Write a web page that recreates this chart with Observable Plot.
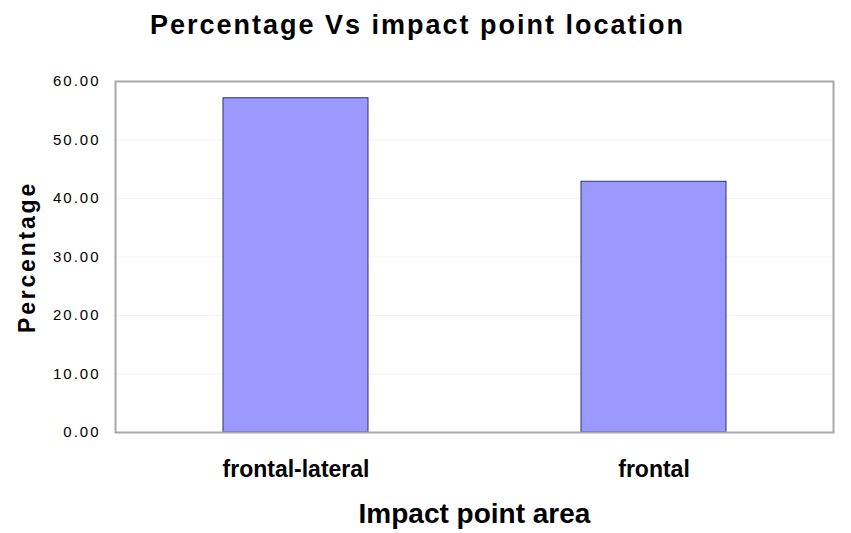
<!DOCTYPE html>
<html>
<head>
<meta charset="utf-8">
<script src="https://cdn.jsdelivr.net/npm/d3@7"></script>
<script src="https://cdn.jsdelivr.net/npm/@observablehq/plot@0.6"></script>
<style>
  html, body { margin: 0; padding: 0; background: #fff; }
  #title {
    width: 835px; height: 48px; padding-top: 12px;
    font-family: "Liberation Sans", Arial, sans-serif;
    font-weight: bold; font-size: 27px; line-height: 27px;
    letter-spacing: 2px; text-align: center; color: #000;
  }
  svg { font-family: "Liberation Sans", Arial, sans-serif; }
</style>
</head>
<body>
<div id="title">Percentage Vs impact point location</div>
<div id="chart"></div>
<script>
const categories = ["frontal-lateral", "frontal"];
const percentages = [57.14, 42.86];
const yTicks = [0, 10, 20, 30, 40, 50, 60];
const yLabel = "Percentage";
const xLabel = "Impact point area";

const data = categories.map((c, i) => ({category: c, value: percentages[i]}));

const chart = Plot.plot({
  width: 851,
  height: 473,
  marginTop: 21,
  marginBottom: 101,
  marginLeft: 115,
  marginRight: 18,
  style: {fontFamily: '"Liberation Sans", Arial, sans-serif', color: "#000", background: "#fff"},
  x: {domain: categories, paddingInner: 0.595, paddingOuter: 0.3, label: null},
  y: {domain: [0, 60], label: null},
  marks: [
    Plot.gridY(yTicks, {stroke: "#f3f3f3", strokeOpacity: 1}),
    Plot.barY(data, {x: "category", y: "value", fill: "#9999ff", stroke: "#333366", strokeWidth: 1}),
    Plot.frame({stroke: "#a8a8a8", strokeWidth: 2}),
    Plot.axisY(yTicks, {tickSize: 0, tickPadding: 15, tickFormat: d => d.toFixed(2), fontSize: 15, label: null}),
    Plot.axisX({tickSize: 0, tickPadding: 28, fontSize: 23, fontWeight: "bold", label: null}),
    Plot.text([yLabel], {frameAnchor: "left", dx: -88, rotate: -90, fontSize: 23, fontWeight: "bold", lineAnchor: "middle", textAnchor: "middle"}),
    Plot.text([xLabel], {frameAnchor: "bottom", dy: 90, fontSize: 28, fontWeight: "bold", lineAnchor: "bottom", textAnchor: "middle"})
  ]
});
document.getElementById("chart").appendChild(chart);

// letter spacing tweaks to mimic the stretched original
d3.select(chart).selectAll("text").each(function() {
  const t = this.textContent;
  if (t === yLabel) this.style.letterSpacing = "2.8px";
  if (/^\d+\.\d\d$/.test(t)) this.style.letterSpacing = "2px";
});
</script>
</body>
</html>
